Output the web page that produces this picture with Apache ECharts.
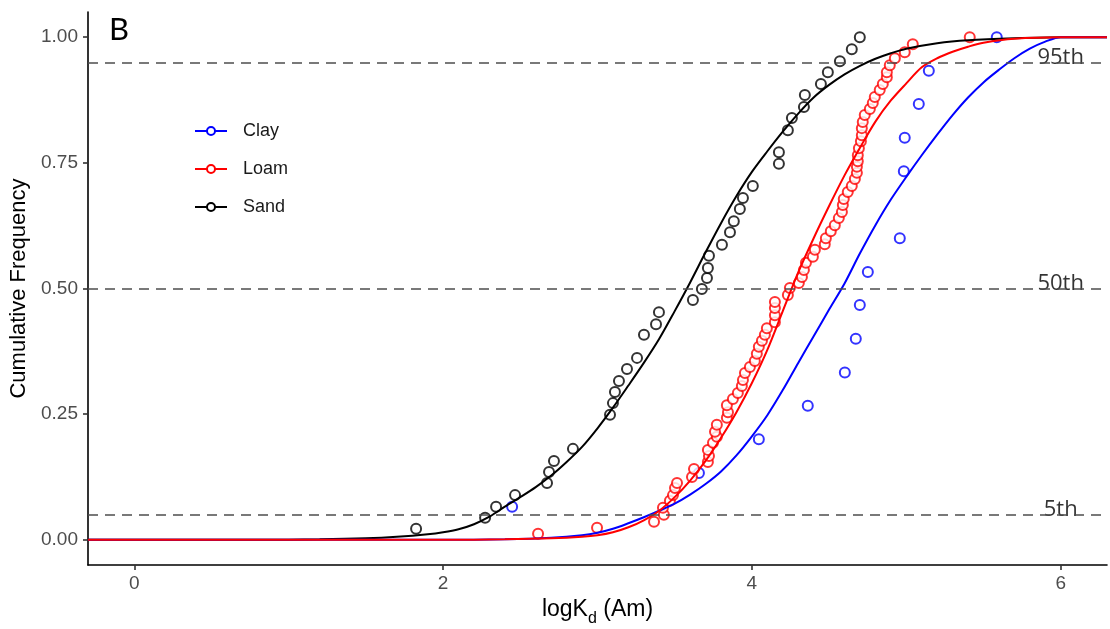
<!DOCTYPE html>
<html>
<head>
<meta charset="utf-8">
<script src="https://cdn.jsdelivr.net/npm/echarts@6/dist/echarts.min.js"></script>
<style>
html, body { margin: 0; padding: 0; background: #fff; }
#chartMain { width: 1110px; height: 629px; }
</style>
</head>
<body>
<div id="chartMain"></div>
<script>
// axis ticks
var xTicks = [0, 2, 4, 6];
var yTicks = [0, 0.25, 0.5, 0.75, 1];

// percentile reference lines
var pctLevels = [0.05, 0.5, 0.95];
var pctLabels = ['5th', '50th', '95th'];

// observed cumulative frequencies (points)
var clayX = [2.447, 3.657, 4.045, 4.362, 4.602, 4.673, 4.699, 4.751, 4.958, 4.984, 4.990, 5.081, 5.146, 5.586];
var clayY = [0.066, 0.133, 0.200, 0.267, 0.333, 0.400, 0.467, 0.533, 0.600, 0.733, 0.800, 0.867, 0.933, 1.000];

var loamX = [2.615, 2.997, 3.366, 3.430, 3.424, 3.469, 3.489, 3.502, 3.515, 3.612,
             3.625, 3.715, 3.722, 3.715, 3.748, 3.773, 3.761, 3.773, 3.838, 3.845,
             3.838, 3.877, 3.909, 3.935, 3.942, 3.955, 3.987, 4.019, 4.032, 4.045,
             4.065, 4.084, 4.097, 4.149, 4.149, 4.149, 4.149, 4.233, 4.246, 4.304,
             4.324, 4.337, 4.350, 4.395, 4.408, 4.472, 4.479, 4.511, 4.537, 4.563,
             4.583, 4.589, 4.595, 4.621, 4.647, 4.667, 4.680, 4.680, 4.686, 4.686,
             4.693, 4.706, 4.712, 4.712, 4.718, 4.731, 4.764, 4.783, 4.796, 4.828,
             4.848, 4.874, 4.874, 4.893, 4.926, 4.990, 5.042, 5.411];
var loamY = [0.012, 0.024, 0.036, 0.050, 0.064, 0.078, 0.089, 0.103, 0.113, 0.125,
             0.141, 0.155, 0.167, 0.179, 0.193, 0.205, 0.215, 0.229, 0.243, 0.254,
             0.268, 0.280, 0.292, 0.306, 0.318, 0.332, 0.344, 0.356, 0.370, 0.384,
             0.396, 0.408, 0.421, 0.433, 0.447, 0.461, 0.473, 0.487, 0.501, 0.511,
             0.523, 0.537, 0.551, 0.563, 0.577, 0.588, 0.600, 0.614, 0.626, 0.640,
             0.652, 0.666, 0.678, 0.692, 0.704, 0.718, 0.730, 0.742, 0.753, 0.765,
             0.779, 0.793, 0.805, 0.819, 0.831, 0.845, 0.857, 0.869, 0.881, 0.895,
             0.907, 0.920, 0.930, 0.944, 0.958, 0.970, 0.986, 1.000];

var sandX = [1.825, 2.272, 2.343, 2.466, 2.673, 2.686, 2.718, 2.841,
             3.081, 3.100, 3.113, 3.139, 3.191, 3.256, 3.301, 3.379, 3.398,
             3.618, 3.676, 3.709, 3.715, 3.722, 3.806, 3.858, 3.883, 3.922, 3.942, 4.006,
             4.175, 4.175, 4.233, 4.259, 4.337, 4.343, 4.447, 4.492, 4.570, 4.647, 4.699];
var sandY = [0.022, 0.044, 0.066, 0.089, 0.113, 0.135, 0.157, 0.181,
             0.249, 0.272, 0.294, 0.316, 0.340, 0.362, 0.408, 0.429, 0.453,
             0.477, 0.499, 0.521, 0.541, 0.565, 0.587, 0.612, 0.634, 0.658, 0.680, 0.704,
             0.748, 0.771, 0.815, 0.839, 0.861, 0.885, 0.907, 0.930, 0.952, 0.976, 1.000];

// fitted curves
var clayCurveX = [-0.3, 2.0, 2.4, 2.7, 2.9, 3.0, 3.1, 3.2, 3.3, 3.4, 3.5, 3.6, 3.7, 3.8, 3.9, 4.0, 4.1, 4.2, 4.3, 4.4,
                  4.5, 4.6, 4.7, 4.8, 4.9, 5.0, 5.1, 5.2, 5.3, 5.4, 5.5, 5.6, 5.7, 5.8, 5.9, 6.0, 6.3];
var clayCurveY = [0, 0, 0.001, 0.004, 0.009, 0.014, 0.022, 0.033, 0.045, 0.058, 0.072, 0.09, 0.111, 0.136, 0.168, 0.206, 0.248, 0.298, 0.352, 0.405,
                  0.458, 0.51, 0.57, 0.626, 0.677, 0.722, 0.765, 0.806, 0.845, 0.88, 0.91, 0.935, 0.958, 0.977, 0.991, 1, 1];

var loamCurveX = [-0.3, 2.0, 2.4, 2.7, 2.9, 3.0, 3.1, 3.2, 3.3, 3.4, 3.5, 3.6, 3.7, 3.8, 3.9, 4.0, 4.1, 4.2, 4.3, 4.4,
                  4.5, 4.6, 4.7, 4.8, 4.9, 5.0, 5.1, 5.2, 5.3, 5.4, 5.5, 5.7, 6.0, 6.3];
var loamCurveY = [0, 0, 0.001, 0.003, 0.006, 0.009, 0.015, 0.025, 0.039, 0.058, 0.085, 0.118, 0.157, 0.203, 0.254, 0.312, 0.378, 0.455, 0.532, 0.600,
                  0.664, 0.725, 0.78, 0.832, 0.874, 0.908, 0.94, 0.958, 0.971, 0.981, 0.989, 0.997, 1, 1];

var sandCurveX = [-0.3, 0.8, 1.2, 1.5, 1.7, 1.9, 2.0, 2.1, 2.2, 2.3, 2.4, 2.5, 2.6, 2.7, 2.8, 2.9, 3.0, 3.1, 3.2, 3.3,
                  3.4, 3.5, 3.6, 3.7, 3.8, 3.9, 4.0, 4.1, 4.2, 4.3, 4.4, 4.5, 4.6, 4.7, 4.8, 4.9, 5.0, 5.2, 5.4, 5.7, 6.0, 6.3];
var sandCurveY = [0, 0, 0.001, 0.003, 0.006, 0.011, 0.015, 0.021, 0.031, 0.046, 0.066, 0.085, 0.105, 0.128, 0.155, 0.185, 0.222, 0.263, 0.307, 0.352,
                  0.400, 0.455, 0.512, 0.572, 0.63, 0.684, 0.732, 0.773, 0.812, 0.848, 0.88, 0.905, 0.926, 0.943, 0.957, 0.968, 0.977, 0.988, 0.994, 0.998, 1, 1];

var groups = ['Clay', 'Loam', 'Sand'];
var colors = { Clay: '#0000ff', Loam: '#ff0000', Sand: '#000000' };

function pairs(xs, ys) {
    return xs.map(function(x, i) { return [x, ys[i]]; });
}

var pts = { Clay: pairs(clayX, clayY), Loam: pairs(loamX, loamY), Sand: pairs(sandX, sandY) };
var curves = { Clay: pairs(clayCurveX, clayCurveY), Loam: pairs(loamCurveX, loamCurveY), Sand: pairs(sandCurveX, sandCurveY) };

var myChart = echarts.init(document.getElementById('chartMain'));
var axisFont = 'Liberation Sans';

var series = [];

// dashed percentile lines + their labels
series.push({
    name: 'pct',
    type: 'scatter',
    symbolSize: 0,
    silent: true,
    data: pctLevels.map(function(v, i) { return [6, v, pctLabels[i]]; }),
    label: {
        show: true,
        position: 'top',
        distance: 0,
        offset: [0, 6],
        formatter: function(p) { return p.data[2]; },
        fontSize: 22,
        fontFamily: 'Open Sans',
        color: '#000'
    },
    markLine: {
        silent: true,
        symbol: 'none',
        label: { show: false },
        lineStyle: { type: [10, 7], color: '#4d4d4d', width: 1.6 },
        data: pctLevels.map(function(v) { return { yAxis: v }; })
    },
    z: 1
});

// observed points
groups.forEach(function(g) {
    series.push({
        name: g + ' obs',
        type: 'scatter',
        symbol: 'emptyCircle',
        symbolSize: 10,
        data: pts[g],
        itemStyle: { color: colors[g], borderWidth: 1.3, opacity: 0.8 },
        z: 2
    });
});

// fitted curves (order: sand, clay, loam so red sits on top)
['Sand', 'Clay', 'Loam'].forEach(function(g) {
    series.push({
        name: g,
        type: 'line',
        data: curves[g],
        symbol: 'emptyCircle',
        symbolSize: 8,
        showSymbol: false,
        smooth: 0.3,
        lineStyle: { color: colors[g], width: 2 },
        itemStyle: { color: colors[g] },
        z: 3
    });
});

var option = {
    animation: false,
    backgroundColor: '#fff',
    grid: { left: 88, right: 3, top: 12, bottom: 64, outerBoundsMode: 'none' },
    legend: {
        data: groups,
        orient: 'vertical',
        left: 189,
        top: 117,
        itemWidth: 32,
        itemHeight: 10,
        itemGap: 20,
        selectedMode: false,
        textStyle: { fontSize: 18, color: '#1a1a1a', fontFamily: axisFont, padding: [0, 0, 0, 11] }
    },
    graphic: [{
        type: 'text',
        left: 109,
        top: 14,
        style: { text: 'B', fontSize: 31, fontFamily: 'Lato', fill: '#000' }
    }],
    xAxis: {
        type: 'value',
        min: -0.3,
        max: 6.3,
        name: '{n|logK}{s|d}{n| (Am)}',
        nameLocation: 'middle',
        nameGap: 30,
        nameTextStyle: {
            rich: {
                n: { fontSize: 23, fontFamily: axisFont, color: '#000', verticalAlign: 'bottom', padding: [0, 0, 6, 0] },
                s: { fontSize: 16, fontFamily: axisFont, color: '#000', verticalAlign: 'bottom' }
            }
        },
        axisLine: { show: true, onZero: false, lineStyle: { color: '#000', width: 1.6 } },
        axisTick: { show: true, length: 5, customValues: xTicks, lineStyle: { color: '#333', width: 1.6 } },
        axisLabel: { customValues: xTicks, color: '#4d4d4d', fontSize: 19, margin: 9, fontFamily: axisFont },
        splitLine: { show: false }
    },
    yAxis: {
        type: 'value',
        min: -0.05,
        max: 1.05,
        name: 'Cumulative Frequency',
        nameLocation: 'middle',
        nameGap: 57,
        nameTextStyle: { fontSize: 22, fontFamily: axisFont, color: '#000' },
        axisLine: { show: true, onZero: false, lineStyle: { color: '#000', width: 1.6 } },
        axisTick: { show: true, length: 5, customValues: yTicks, lineStyle: { color: '#333', width: 1.6 } },
        axisLabel: {
            customValues: yTicks,
            color: '#4d4d4d',
            fontSize: 19,
            margin: 10,
            fontFamily: axisFont,
            formatter: function(v) { return v.toFixed(2); }
        },
        splitLine: { show: false }
    },
    series: series
};

myChart.setOption(option);
</script>
</body>
</html>
